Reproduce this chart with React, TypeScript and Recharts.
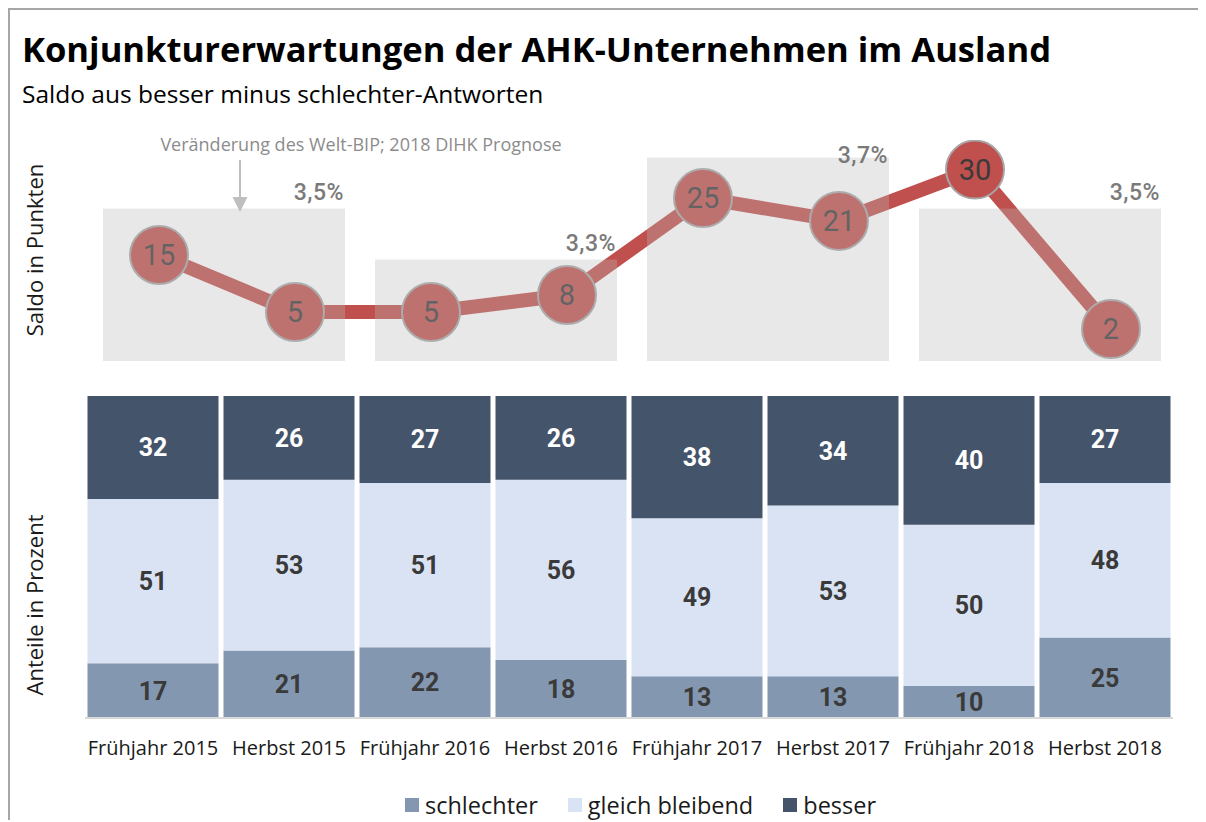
import React from "react";
import {
  ComposedChart,
  BarChart,
  Bar,
  Line,
  XAxis,
  YAxis,
  LabelList,
  ReferenceArea,
} from "recharts";

// Kategorien und Werte
const kategorien = [
  "Frühjahr 2015",
  "Herbst 2015",
  "Frühjahr 2016",
  "Herbst 2016",
  "Frühjahr 2017",
  "Herbst 2017",
  "Frühjahr 2018",
  "Herbst 2018",
];
const saldo = [15, 5, 5, 8, 25, 21, 30, 2];
const schlechter = [17, 21, 22, 18, 13, 13, 10, 25];
const gleich = [51, 53, 51, 56, 49, 53, 50, 48];
const besser = [32, 26, 27, 26, 38, 34, 40, 27];

// Welt-BIP (grauer Kasten je Jahr)
const bipVon = ["Frühjahr 2015", "Frühjahr 2016", "Frühjahr 2017", "Frühjahr 2018"];
const bipBis = ["Herbst 2015", "Herbst 2016", "Herbst 2017", "Herbst 2018"];
const bipWerte = [3.5, 3.3, 3.7, 3.5];
const bipLabels = ["3,5%", "3,3%", "3,7%", "3,5%"];

const C_SCHLECHTER = "#8497b0";
const C_GLEICH = "#dae3f3";
const C_BESSER = "#44546a";
const C_ROT = "#c0504d";

const TEXT_FONT = "'Open Sans', sans-serif";
const NUM_FONT = "Roboto, sans-serif";

const BIP_MIN = 2.902;
const BIP_MAX = 3.769;

const rows = kategorien.map((name, i) => ({
  name,
  saldo: saldo[i],
  schlechter: schlechter[i],
  gleich: gleich[i],
  besser: besser[i],
}));

const CHART_W = 1108;
const MARGIN = { top: 10, right: 10, bottom: 0, left: 10 };

const boxShape = (label: string) => (props: any) => {
  const { x, y, width, height } = props;
  const bx = x + 18;
  const bw = width - 30;
  const ty = Math.max(y - 16, 25);
  return (
    <g>
      <rect x={bx} y={y} width={bw} height={height} fill="#bababa" fillOpacity={0.33} />
      <text
        x={bx + bw - 1}
        y={ty}
        textAnchor="end"
        dominantBaseline="central"
        fill="#7a7a7a"
        fontSize={23}
        fontWeight={500}
        fontFamily={NUM_FONT}
        letterSpacing={0.5}
      >
        {label}
      </text>
    </g>
  );
};

const abs = (left: number, top: number): React.CSSProperties => ({
  position: "absolute",
  left: left - 10,
  top: top - 10,
});

export default function App() {
  return (
    <div
      style={{
        position: "relative",
        width: 1198,
        height: 812,
        borderTop: "2px solid #a6a6a6",
        borderLeft: "2px solid #a6a6a6",
        boxSizing: "border-box",
        background: "#fff",
        fontFamily: TEXT_FONT,
      }}
    >
      <div
        style={{
          ...abs(22, 32),
          fontSize: 34.6,
          fontWeight: 700,
          lineHeight: 1,
          color: "#000",
          whiteSpace: "nowrap",
        }}
      >
        Konjunkturerwartungen der AHK-Unternehmen im Ausland
      </div>
      <div
        style={{
          ...abs(22, 82),
          fontSize: 24.5,
          lineHeight: 1,
          color: "#000",
          whiteSpace: "nowrap",
        }}
      >
        Saldo aus besser minus schlechter-Antworten
      </div>

      {/* Achsentitel */}
      <div
        style={{
          ...abs(34, 250),
          transform: "translate(-50%, -50%) rotate(-90deg)",
          fontSize: 22,
          whiteSpace: "nowrap",
          color: "#1a1a1a",
        }}
      >
        Saldo in Punkten
      </div>
      <div
        style={{
          ...abs(34, 605),
          transform: "translate(-50%, -50%) rotate(-90deg)",
          fontSize: 22,
          whiteSpace: "nowrap",
          color: "#1a1a1a",
        }}
      >
        Anteile in Prozent
      </div>

      {/* Hinweis Welt-BIP */}
      <div
        style={{
          ...abs(361, 144),
          transform: "translate(-50%, -50%)",
          fontSize: 18,
          color: "#8c8c8c",
          whiteSpace: "nowrap",
        }}
      >
        Veränderung des Welt-BIP; 2018 DIHK Prognose
      </div>
      <svg style={{ ...abs(232, 159) }} width={16} height={56}>
        <line x1={8} y1={1} x2={8} y2={40} stroke="#bfbfbf" strokeWidth={2} />
        <polygon points="0.5,38 15.5,38 8,53" fill="#bfbfbf" />
      </svg>

      {/* Saldo-Linie */}
      <div style={{ ...abs(81, 130) }}>
        <ComposedChart width={CHART_W} height={231} data={rows} margin={MARGIN}>
          <XAxis dataKey="name" hide scale="band" />
          <YAxis hide type="number" domain={[-3.6, 35.2]} allowDataOverflow />
          <Line
            dataKey="saldo"
            stroke={C_ROT}
            strokeWidth={14}
            dot={{ r: 29, fill: C_ROT, stroke: "#a6a6a6", strokeWidth: 2, fillOpacity: 1 }}
            activeDot={false}
            isAnimationActive={false}
          >
            <LabelList
              dataKey="saldo"
              position="center"
              fill="#3a3a3a"
              fontSize={29}
              fontFamily={NUM_FONT}
            />
          </Line>
        </ComposedChart>
      </div>

      {/* Welt-BIP-Kästen, halbtransparent über der Linie */}
      <div style={{ ...abs(75, 130) }}>
        <ComposedChart width={CHART_W} height={231} data={rows} margin={MARGIN}>
          <XAxis dataKey="name" hide scale="band" />
          <YAxis
            yAxisId="bip"
            hide
            type="number"
            domain={[BIP_MIN, BIP_MAX]}
            allowDataOverflow
          />
          {bipWerte.map((v, i) => (
            <ReferenceArea
              key={i}
              yAxisId="bip"
              x1={bipVon[i]}
              x2={bipBis[i]}
              y1={BIP_MIN}
              y2={v}
              shape={boxShape(bipLabels[i])}
            />
          ))}
        </ComposedChart>
      </div>

      {/* Anteile */}
      <div style={{ ...abs(75, 386) }}>
        <BarChart
          width={CHART_W}
          height={382}
          data={rows}
          margin={MARGIN}
          barCategoryGap={2.5}
        >
          <XAxis
            dataKey="name"
            height={50}
            tickLine={false}
            tickMargin={17}
            axisLine={{ stroke: "#d9d9d9", strokeWidth: 2 }}
            tick={{ fill: "#1a1a1a", fontSize: 20, fontFamily: TEXT_FONT }}
            interval={0}
          />
          <YAxis hide domain={[0, 100]} allowDataOverflow />
          <Bar dataKey="schlechter" stackId="a" fill={C_SCHLECHTER} isAnimationActive={false}>
            <LabelList
              dataKey="schlechter"
              position="center"
              fill="#3a3a3a"
              fontSize={25}
              fontWeight={700}
              fontFamily={NUM_FONT}
            />
          </Bar>
          <Bar dataKey="gleich" stackId="a" fill={C_GLEICH} isAnimationActive={false}>
            <LabelList
              dataKey="gleich"
              position="center"
              fill="#3a3a3a"
              fontSize={25}
              fontWeight={700}
              fontFamily={NUM_FONT}
            />
          </Bar>
          <Bar dataKey="besser" stackId="a" fill={C_BESSER} isAnimationActive={false}>
            <LabelList
              dataKey="besser"
              position="center"
              fill="#ffffff"
              fontSize={25}
              fontWeight={700}
              fontFamily={NUM_FONT}
            />
          </Bar>
        </BarChart>
      </div>

      {/* Legende */}
      <div
        style={{
          ...abs(405, 792),
          display: "flex",
          alignItems: "center",
          gap: 30,
          fontSize: 23.5,
          color: "#1a1a1a",
          whiteSpace: "nowrap",
        }}
      >
        {[
          ["schlechter", C_SCHLECHTER],
          ["gleich bleibend", C_GLEICH],
          ["besser", C_BESSER],
        ].map(([name, color]) => (
          <div key={name} style={{ display: "flex", alignItems: "center" }}>
            <span
              style={{
                display: "inline-block",
                width: 14,
                height: 14,
                background: color,
                marginRight: 6,
              }}
            />
            <span style={{ lineHeight: "26px" }}>{name}</span>
          </div>
        ))}
      </div>
    </div>
  );
}
